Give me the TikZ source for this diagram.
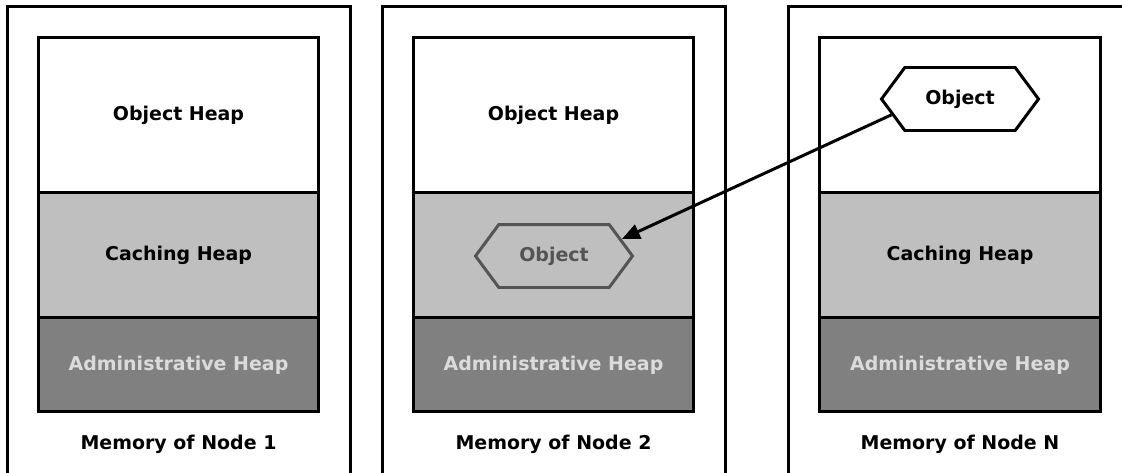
\documentclass[tikz,border=0pt]{standalone}
\usepackage{fontspec}
\setmainfont{DejaVu Sans}
\usepackage{xcolor}
\usepackage{tikz}
\usetikzlibrary{arrows.meta, positioning, shapes.symbols}

\definecolor{cachegray}{gray}{0.75}
\definecolor{admingray}{gray}{0.5}
\definecolor{admintext}{gray}{0.86}
\definecolor{ghostgray}{gray}{0.33}

\tikzset{
    labelfont/.style={font=\fontsize{10.8}{13}\selectfont\bfseries},
    memframe/.style={draw, line width=1.7pt, minimum width=6.88cm, minimum height=9.68cm},
    heap/.style={draw, line width=1.7pt, outer sep=0pt, minimum width=5.62cm, labelfont},
    objheap/.style={heap, fill=white, minimum height=3.12cm},
    cacheheap/.style={heap, fill=cachegray, minimum height=2.5cm},
    adminheap/.style={heap, fill=admingray, text=admintext, minimum height=1.88cm},
    obj/.style={signal, signal to=east and west, signal pointer angle=107, draw,
        line width=1.7pt, fill=white, minimum width=3.14cm, minimum height=1.26cm, labelfont},
    ghostobj/.style={obj, draw=ghostgray, text=ghostgray, fill=cachegray}
}

\begin{document}
\begin{tikzpicture}[x=0.02cm, y=-0.02cm]
    \useasboundingbox (0,0) rectangle (1122,473);
    \clip (0,0) rectangle (1122,473);

    % memory frames
    \node[memframe] (mem1) at (179,248) {};
    \node[memframe] (mem2) at (554,248) {};
    \node[memframe] (mem3) at (960,248) {};

    % node 1
    \node[objheap] (oh1) at (178.5,115) {Object Heap};
    \node[cacheheap, below=0pt of oh1] (ch1) {Caching Heap};
    \node[adminheap, below=0pt of ch1] (ah1) {Administrative Heap};
    \node[labelfont, below=0.34cm of ah1] (lbl1) {Memory of Node 1};

    % node 2
    \node[objheap] (oh2) at (553.5,115) {Object Heap};
    \node[cacheheap, below=0pt of oh2] (ch2) {};
    \node[adminheap, below=0pt of ch2] (ah2) {Administrative Heap};
    \node[labelfont, below=0.34cm of ah2] (lbl2) {Memory of Node 2};
    \node[ghostobj] (obj2) at (554,256) {Object};

    % node N
    \node[objheap] (oh3) at (960,115) {};
    \node[cacheheap, below=0pt of oh3] (ch3) {Caching Heap};
    \node[adminheap, below=0pt of ch3] (ah3) {Administrative Heap};
    \node[labelfont, below=0.34cm of ah3] (lbl3) {Memory of Node N};
    \node[obj] (obj3) at (960,99) {Object};

    % cached copy
    \draw[-{Triangle[length=0.36cm, width=0.3cm]}, line width=1.7pt] (obj3.193) -- (obj2.14);
\end{tikzpicture}
\end{document}
